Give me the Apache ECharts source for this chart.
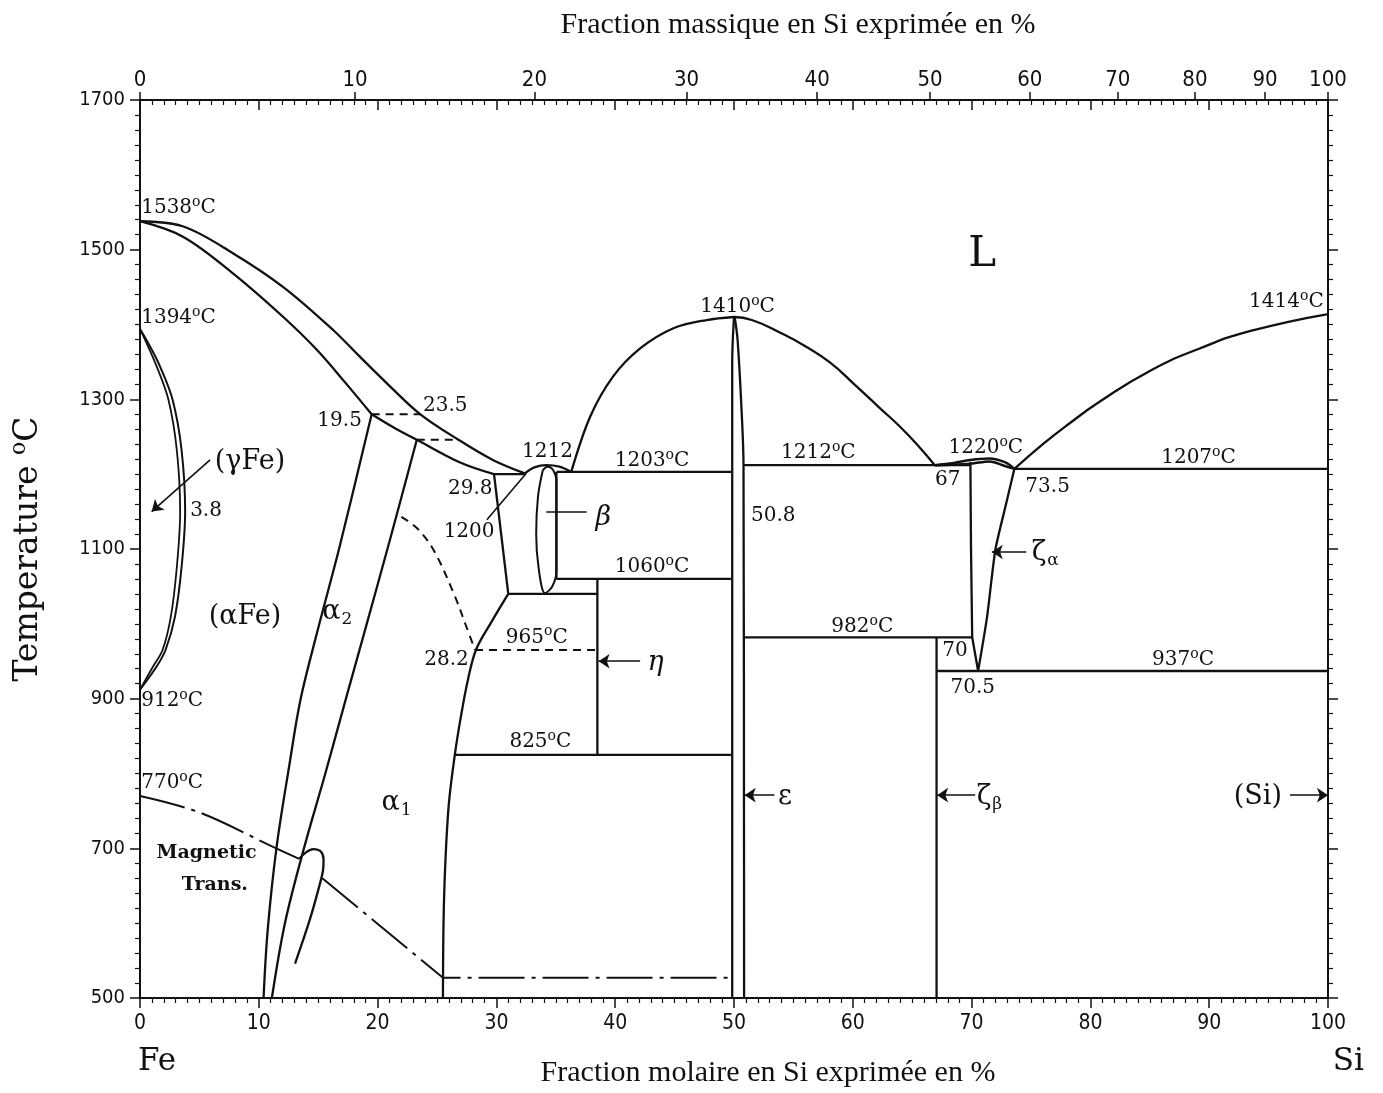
<!DOCTYPE html>
<html><head><meta charset="utf-8">
<script src="https://cdn.jsdelivr.net/npm/echarts@6/dist/echarts.min.js"></script>
<style>html,body{margin:0;padding:0;background:#fff}#c{width:1383px;height:1093px}</style>
</head><body><div id="c"></div><script>
// ---------- axis tick data ----------
const massTickAt = [0, 18.1, 33.2, 46.0, 57.0, 66.5, 74.9, 82.3, 88.8, 94.7, 100]; // atomic % position of mass % ticks
const massTickLabels = ['0','10','20','30','40','50','60','70','80','90','100'];

// ---------- phase boundaries (x = at.% Si, y = °C) ----------
const liquidusFe   = [[0,1538],[3.65,1531],[7.85,1495],[12.06,1450],[16.3,1392],[18.5,1357],[21,1318],[23.6,1280],[26.8,1246],[29.7,1219],[32.4,1201]];
const solidusHigh  = [[0,1538],[3.65,1517],[7.85,1468],[12.06,1410],[14.9,1366],[17.3,1322],[19.5,1280]];
const solidusLow   = [[19.5,1280],[21.5,1261],[23.3,1246],[26.9,1216],[29.8,1200]];
const gammaOuter   = [[0,1394],[0.8,1372],[1.68,1344],[2.75,1299],[3.5,1232],[3.8,1150],[3.5,1076],[2.95,1010],[2.15,965],[1.4,943],[0,912]];
const gammaInner   = [[0,1394],[1.4,1344],[2.4,1299],[3.1,1232],[3.38,1150],[3.1,1076],[2.6,1010],[1.9,965],[1.1,943],[0,912]];
const alpha2Left   = [[19.5,1280],[16.8,1103],[14.9,988],[13.5,898],[12.6,814],[11.5,702],[10.75,591],[10.4,500]];
const alpha2Right  = [[23.3,1246],[21.0,1110],[19.0,995],[17.3,898],[15.6,800],[13.8,700],[12.2,600],[11.1,500]];
const magLoop      = [[13.4,686],[14.0,695],[14.6,699],[15.2,696],[15.45,685],[15.4,670],[15.1,650],[14.3,605],[13.05,546]];
const magneticA    = [[0,770],[5,748],[11.2,702],[13.4,686]];
const magneticB    = [[15.35,660],[25.5,527],[49.7,527]];
const alpha1Top    = [[29.8,1200],[31.0,1040]];
const alpha1Curve  = [[31.0,1040],[29.6,1003],[28.3,966],[27.6,925],[27.0,875],[26.5,825],[26.0,760],[25.7,680],[25.55,600],[25.5,500]];
const orderDashed  = [[22.0,1143],[23.3,1128],[24.7,1099],[26.4,1041],[27.5,995],[28.2,965]];
const dash1280     = [[19.5,1280],[23.6,1280]];
const dash1246     = [[23.3,1246],[26.8,1246]];
const dash965      = [[28.2,965],[38.5,965]];
const eut1200      = [[29.8,1200],[32.4,1200]];
const betaDome     = [[32.4,1201],[33.2,1209],[34.2,1212],[35.3,1210],[36.3,1203]];
const betaLens     = [[33.9,1205],[34.3,1210],[34.8,1205],[35.05,1190],[35.05,1070],[34.7,1050],[34.1,1041],[33.55,1075],[33.35,1120],[33.5,1170],[33.9,1205]];
const betaVert     = [[35.05,1203],[35.05,1060]];
const iso1203      = [[35.05,1203],[49.85,1203]];
const iso1060      = [[35.05,1060],[49.85,1060]];
const iso1040      = [[31.0,1040],[38.5,1040]];
const etaVert      = [[38.5,1060],[38.5,825]];
const iso825       = [[26.5,825],[49.85,825]];
const epsLiqLeft   = [[36.3,1203],[37.9,1277],[39.8,1330],[42.1,1368],[44.9,1395],[47.7,1406],[50.0,1410]];
const epsLiqRight  = [[50.0,1410],[51.5,1406],[53.9,1389],[56,1371],[58.1,1349],[60.2,1319],[62.3,1288],[64,1263],[65.5,1238],[66.9,1212]];
const epsLeft      = [[50.0,1410],[49.85,1350],[49.85,500]];
const epsRight     = [[50.05,1410],[50.3,1380],[50.65,1281],[50.8,1212],[50.85,500]];
const iso1212      = [[50.8,1212],[69.9,1212]];
const zetaDomeUp   = [[66.9,1212],[68.5,1215],[69.9,1219],[71.5,1221],[72.8,1216],[73.6,1207]];
const zetaDomeLow  = [[66.9,1212],[69.9,1214],[71.5,1217],[72.8,1211],[73.6,1207]];
const zetaAlphaL   = [[69.9,1216],[69.95,1100],[70.05,982],[70.55,937]];
const zetaAlphaR   = [[73.6,1207],[72.9,1160],[72.0,1099],[71.3,1009],[70.55,937]];
const iso982       = [[50.85,982],[70.05,982]];
const zetaBeta     = [[67.05,982],[67.05,500]];
const iso937       = [[67.05,937],[100,937]];
const siLiquidus   = [[73.6,1207],[76,1240],[78,1265],[80.8,1297],[85,1338],[89.2,1368],[93.4,1391],[100,1414]];
const iso1207      = [[73.6,1207],[100,1207]];

// ---------- pointer lines [from, to, arrowhead] ----------
const pointers = [
  [[5.9,1219],[0.98,1150],true],
  [[29.2,1139],[32.5,1201],false],
  [[37.6,1150],[34.2,1150],false],
  [[42.1,950],[38.6,950],true],
  [[53.4,771],[50.9,771],true],
  [[70.3,771],[67.1,771],true],
  [[74.6,1096],[71.7,1096],true],
  [[96.8,771],[100,771],true]
];

// ---------- annotations [x, °C, text, kind, align] ----------
const annotations = [
  [0.1,1556,'1538°C','num','left'],
  [0.1,1409,'1394°C','num','left'],
  [0.1,897,'912°C','num','left'],
  [0.1,787,'770°C','num','left'],
  [50.3,1423,'1410°C','num','center'],
  [96.5,1430,'1414°C','num','center'],
  [34.3,1230,'1212','num','center'],
  [43.1,1218,'1203°C','num','center'],
  [57.1,1228,'1212°C','num','center'],
  [71.2,1235,'1220°C','num','center'],
  [89.1,1222,'1207°C','num','center'],
  [68.0,1192,'67','num','center'],
  [76.4,1183,'73.5','num','center'],
  [53.3,1144,'50.8','num','center'],
  [27.8,1181,'29.8','num','center'],
  [27.7,1123,'1200','num','center'],
  [16.8,1271,'19.5','num','center'],
  [25.7,1292,'23.5','num','center'],
  [5.56,1151,'3.8','num','center'],
  [43.1,1076,'1060°C','num','center'],
  [33.4,982,'965°C','num','center'],
  [25.8,952,'28.2','num','center'],
  [33.7,842,'825°C','num','center'],
  [60.8,996,'982°C','num','center'],
  [87.8,952,'937°C','num','center'],
  [68.6,964,'70','num','center'],
  [70.1,915,'70.5','num','center'],
  [9.26,1216,'(γFe)','big','center'],
  [8.84,1009,'(αFe)','big','center'],
  [16.6,1016,'α{u|2}','big','center'],
  [21.6,760,'α{u|1}','big','center'],
  [39.0,1141,'β','ital','center'],
  [43.4,948,'η','ital','center'],
  [54.3,769,'ε','big','center'],
  [76.2,1095,'ζ{u|α}','big','center'],
  [71.5,769,'ζ{u|β}','big','center'],
  [94.1,769,'(Si)','big','center'],
  [70.9,1493,'L','huge','center'],
  [5.6,694,'Magnetic','mag','center'],
  [6.3,651,'Trans.','mag','center']
];

const INK = '#111';
const SERIF = "'DejaVu Serif', serif";
const TICKFONT = "'DejaVu Sans Condensed','Liberation Sans Narrow','Liberation Sans',sans-serif";
const kinds = {
  num:  {fontSize:20, fontFamily:SERIF, fontWeight:'normal', fontStyle:'normal'},
  big:  {fontSize:27, fontFamily:SERIF, fontWeight:'normal', fontStyle:'normal'},
  ital: {fontSize:27, fontFamily:SERIF, fontWeight:'normal', fontStyle:'italic'},
  huge: {fontSize:42, fontFamily:SERIF, fontWeight:'normal', fontStyle:'normal'},
  mag:  {fontSize:19, fontFamily:SERIF, fontWeight:'bold', fontStyle:'normal'}
};

function line(data, opt) {
  opt = opt || {};
  return {
    type:'line', data:data, showSymbol:false, symbol:'none', silent:true,
    smooth: opt.smooth || 0, smoothMonotone: null,
    lineStyle:{color:INK, width: opt.width || 2.3, type: opt.type || 'solid'},
    z: 3, animation:false
  };
}
const SM = 0.35;
const dashed = [8,6];
const dashDot = [46,7,4,7];

const series = [
  line(liquidusFe,{smooth:SM}),
  line(solidusHigh,{smooth:SM}),
  line(solidusLow,{smooth:SM}),
  line(gammaOuter,{smooth:SM,width:2}),
  line(gammaInner,{smooth:SM,width:1.8}),
  line(alpha2Left,{smooth:SM}),
  line(alpha2Right,{smooth:SM}),
  line(magLoop,{smooth:SM}),
  line(magneticA,{smooth:SM,type:dashDot,width:2}),
  line(magneticB,{type:dashDot,width:2}),
  line(alpha1Top),
  line(alpha1Curve,{smooth:SM}),
  line(orderDashed,{smooth:SM,type:dashed,width:2}),
  line(dash1280,{type:dashed,width:2}),
  line(dash1246,{type:dashed,width:2}),
  line(dash965,{type:dashed,width:2}),
  line(eut1200),
  line(betaDome,{smooth:SM}),
  line(betaLens,{smooth:SM,width:2}),
  line(betaVert),
  line(iso1203), line(iso1060), line(iso1040), line(etaVert), line(iso825),
  line(epsLiqLeft,{smooth:SM}), line(epsLiqRight,{smooth:0.5}),
  line(epsLeft,{smooth:SM}), line(epsRight,{smooth:SM}),
  line(iso1212),
  line(zetaDomeUp,{smooth:SM,width:2.5}), line(zetaDomeLow,{smooth:SM,width:2.5}),
  line(zetaAlphaL), line(zetaAlphaR,{smooth:0.2}),
  line(iso982), line(zetaBeta), line(iso937),
  line(siLiquidus,{smooth:0.5}), line(iso1207),
  {
    type:'lines', coordinateSystem:'cartesian2d', silent:true, animation:false, z:4,
    symbol:['none','arrow'], symbolSize:11,
    lineStyle:{color:INK, width:1.6, opacity:1, curveness:0},
    data: pointers.filter(p=>p[2]).map(p=>({coords:[p[0],p[1]]}))
  },
  {
    type:'lines', coordinateSystem:'cartesian2d', silent:true, animation:false, z:4,
    symbol:['none','none'],
    lineStyle:{color:INK, width:1.6, opacity:1, curveness:0},
    data: pointers.filter(p=>!p[2]).map(p=>({coords:[p[0],p[1]]}))
  },
  {
    type:'custom', silent:true, animation:false, z:5, clip:false,
    data: annotations.map(a=>[a[0],a[1]]),
    encode:{x:0,y:1},
    renderItem: function(params, api){
      const a = annotations[params.dataIndex];
      const p = api.coord([a[0], a[1]]);
      const k = kinds[a[3]];
      const txt = a[2].replace(/°C/g,'{s|o}C');
      return {
        type:'text', x:p[0], y:p[1],
        style:{
          text: txt, fill: INK, fontSize:k.fontSize, fontFamily:k.fontFamily,
          fontWeight:k.fontWeight, fontStyle:k.fontStyle,
          align: a[4], verticalAlign:'middle',
          rich:{
            s:{fontSize:Math.round(k.fontSize*0.68), fontFamily:k.fontFamily, fill:INK, padding:[0,0,Math.round(k.fontSize*0.55),0]},
            u:{fontSize:Math.round(k.fontSize*0.62), fontFamily:k.fontFamily, fill:INK, padding:[Math.round(k.fontSize*0.55),0,0,1]}
          }
        }
      };
    }
  }
];

const tickStyle = {color:INK, width:1.5};
const plainNum = function(v){ return String(v); };
const option = {
  backgroundColor:'#fff',
  animation:false,
  grid:{left:140, right:55, top:100, bottom:95, containLabel:false},
  xAxis:[
    { type:'value', position:'bottom', min:0, max:100, interval:10,
      axisLine:{show:true, onZero:false, lineStyle:{color:INK, width:2}},
      axisTick:{show:true, inside:false, length:10, lineStyle:tickStyle},
      minorTick:{show:true, splitNumber:10, length:5, lineStyle:{color:INK, width:1.2}},
      axisLabel:{show:true, fontSize:21, color:INK, margin:15, fontFamily:TICKFONT, formatter:plainNum},
      splitLine:{show:false}, minorSplitLine:{show:false} },
    { type:'value', position:'top', min:0, max:100, interval:10,
      axisLine:{show:true, onZero:false, lineStyle:{color:INK, width:2}},
      axisTick:{show:true, inside:true, length:10, lineStyle:tickStyle},
      minorTick:{show:true, splitNumber:10, length:5, lineStyle:{color:INK, width:1.2}},
      axisLabel:{show:false}, splitLine:{show:false} },
    { type:'value', position:'top', min:0, max:100,
      axisLine:{show:false, onZero:false},
      axisTick:{show:true, inside:false, length:8, lineStyle:tickStyle, customValues:massTickAt},
      axisLabel:{show:true, fontSize:22, color:INK, margin:9, fontFamily:TICKFONT, customValues:massTickAt,
        formatter:function(v){ const i = massTickAt.findIndex(m=>Math.abs(m-v)<1e-6); return i>=0?massTickLabels[i]:''; }},
      splitLine:{show:false} }
  ],
  yAxis:[
    { type:'value', position:'left', min:500, max:1700, interval:200,
      name:'Temperature {s|o}C', nameLocation:'middle', nameGap:92, nameRotate:90,
      nameTextStyle:{fontSize:33, fontFamily:SERIF, color:INK,
        rich:{s:{fontSize:22, fontFamily:SERIF, color:INK, padding:[0,0,18,0]}}},
      axisLine:{show:true, onZero:false, lineStyle:{color:INK, width:2}},
      axisTick:{show:true, inside:false, length:10, lineStyle:tickStyle},
      minorTick:{show:true, splitNumber:10, length:5, lineStyle:{color:INK, width:1.2}},
      axisLabel:{show:true, fontSize:20, color:INK, margin:15, fontFamily:TICKFONT, formatter:plainNum},
      splitLine:{show:false} },
    { type:'value', position:'right', min:500, max:1700, interval:200,
      axisLine:{show:true, onZero:false, lineStyle:{color:INK, width:2}},
      axisTick:{show:true, inside:false, length:10, lineStyle:tickStyle},
      minorTick:{show:true, splitNumber:10, length:5, lineStyle:{color:INK, width:1.2}},
      axisLabel:{show:false}, splitLine:{show:false} }
  ],
  graphic:[
    {type:'text', x:798, y:25, silent:true, style:{text:'Fraction massique en Si exprimée en %', fontSize:30, fontFamily:"'Liberation Serif','Times New Roman',serif", fill:INK, align:'center', verticalAlign:'middle'}},
    {type:'text', x:768, y:1073, silent:true, style:{text:'Fraction molaire en Si exprimée en %', fontSize:30, fontFamily:"'Liberation Serif','Times New Roman',serif", fill:INK, align:'center', verticalAlign:'middle'}},
    {type:'text', x:138, y:1062, silent:true, style:{text:'Fe', fontSize:31, fontFamily:SERIF, fill:INK, align:'left', verticalAlign:'middle'}},
    {type:'text', x:1364, y:1062, silent:true, style:{text:'Si', fontSize:31, fontFamily:SERIF, fill:INK, align:'right', verticalAlign:'middle'}}
  ],
  series: series
};
const chart = echarts.init(document.getElementById('c'), null, {renderer:'canvas', width:1383, height:1093});
chart.setOption(option);
</script></body></html>
